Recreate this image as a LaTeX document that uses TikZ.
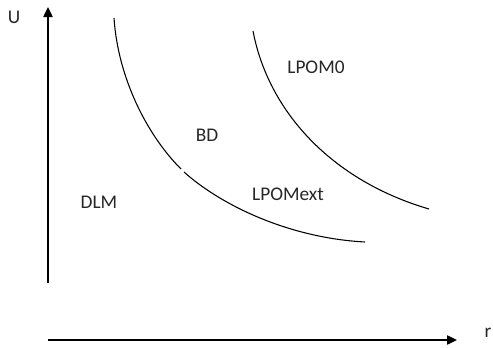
\documentclass[tikz,border=0pt]{standalone}
\usepackage{fontspec}
\setmainfont{Carlito}
\usetikzlibrary{arrows.meta}
\begin{document}
\begin{tikzpicture}[x=0.75pt,y=-0.75pt,
  axis/.style={line width=1pt,-{Triangle[length=7.5pt,width=7pt]}},
  boundary/.style={line width=0.8pt},
  region/.style={font=\fontsize{14.5}{16}\selectfont,text=black!85,inner sep=0pt}]
\useasboundingbox (0,0) rectangle (493,347);

% axes
\coordinate (origin) at (48,283);
\coordinate (utop) at (48,7);
\coordinate (rstart) at (48,340);
\coordinate (rend) at (457,340);
\draw[axis] (origin) -- (utop);
\draw[axis] (rstart) -- (rend);
\node[region] (ulabel) at (14,17) {U};
\node[region] (rlabel) at (488,333) {r};

% inner boundary, broken near its middle
\draw[boundary] (114,18) .. controls (118,78) and (147,135) .. (181,169);
\draw[boundary] (184,172) .. controls (222,206) and (290,238) .. (365,242);

% outer boundary
\draw[boundary] (253,31) .. controls (268,110) and (330,180) .. (429,209);

% region labels
\node[region] (lpom0) at (316,67) {LPOM0};
\node[region] (bd) at (207,135) {BD};
\node[region] (dlm) at (99,202) {DLM};
\node[region] (lpomext) at (288,194) {LPOMext};
\end{tikzpicture}
\end{document}
